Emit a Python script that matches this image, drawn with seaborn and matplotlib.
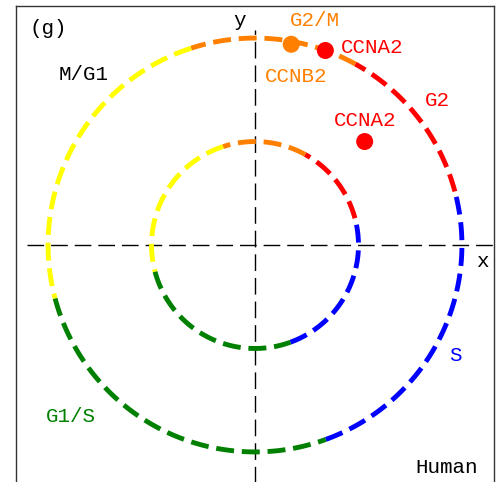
import numpy as np
import pandas as pd
import matplotlib
matplotlib.use("Agg")
import matplotlib.pyplot as plt
import seaborn as sns

# circle radii (inner / outer)
radii = [1.0, 2.0]

# phase segments, angle in degrees counter-clockwise from +x
phases = ["S", "G2", "G2/M", "M/G1", "G1/S"]
phase_start = [-70, 15, 61, 108, 195]
phase_end = [15, 61, 108, 195, 290]
phase_colors = ["#0000ff", "#ff0000", "#ff8000", "#ffff00", "#008000"]

# gene peaks
gene_names = ["CCNB2", "CCNA2", "CCNA2"]
gene_x = [0.35, 0.68, 1.06]
gene_y = [1.94, 1.88, 1.00]
gene_colors = ["#ff8000", "#ff0000", "#ff0000"]

sns.set_style("white")
plt.rcParams["font.family"] = ["Liberation Mono", "DejaVu Sans Mono"]

fig = plt.figure(figsize=(5.02, 4.82), dpi=100)
ax = fig.add_axes([16 / 502, -2 / 482, 478 / 502, 478 / 482])

lim = 2.31
# coordinate axes
ax.plot([-2.2, lim], [0, 0], color="black", lw=1, dashes=(12, 5))
ax.plot([0, 0], [-lim, 2.08], color="black", lw=1, dashes=(12, 5))

for r in radii:
    for a0, a1, c in zip(phase_start, phase_end, phase_colors):
        t = np.radians(np.linspace(a0, a1, 100))
        seg = pd.DataFrame({"x": r * np.cos(t), "y": r * np.sin(t)})
        sns.lineplot(data=seg, x="x", y="y", sort=False, color=c, lw=3.5,
                     linestyle="--", ax=ax)

genes = pd.DataFrame({"x": gene_x, "y": gene_y, "g": range(3)})
sns.scatterplot(data=genes, x="x", y="y", hue="g", palette=gene_colors,
                s=150, edgecolor="none", legend=False, ax=ax, zorder=5)

fs = 15
ax.text(-2.0, 2.09, "(g)", fontsize=fs, ha="center", va="center", color="black")
ax.text(-0.15, 2.17, "y", fontsize=fs, ha="center", va="center", color="black")
ax.text(2.20, -0.16, "x", fontsize=fs, ha="center", va="center", color="black")
ax.text(0.58, 2.17, "G2/M", fontsize=fs, ha="center", va="center", color="#ff8000")
ax.text(1.13, 1.91, "CCNA2", fontsize=fs, ha="center", va="center", color="#ff0000")
ax.text(0.40, 1.63, "CCNB2", fontsize=fs, ha="center", va="center", color="#ff8000")
ax.text(1.76, 1.40, "G2", fontsize=fs, ha="center", va="center", color="#ff0000")
ax.text(1.06, 1.20, "CCNA2", fontsize=fs, ha="center", va="center", color="#ff0000")
ax.text(-1.66, 1.65, "M/G1", fontsize=fs, ha="center", va="center", color="black")
ax.text(1.94, -1.07, "S", fontsize=fs, ha="center", va="center", color="#0000ff")
ax.text(-1.78, -1.66, "G1/S", fontsize=fs, ha="center", va="center", color="#008000")
ax.text(1.85, -2.15, "Human", fontsize=fs, ha="center", va="center", color="black")

ax.set_xlim(-lim, lim)
ax.set_ylim(-lim, lim)
ax.set_xticks([])
ax.set_yticks([])
ax.set_xlabel("")
ax.set_ylabel("")
for sp in ax.spines.values():
    sp.set_color("#333333")
    sp.set_linewidth(1)

fig.savefig("out.png", dpi=100)
